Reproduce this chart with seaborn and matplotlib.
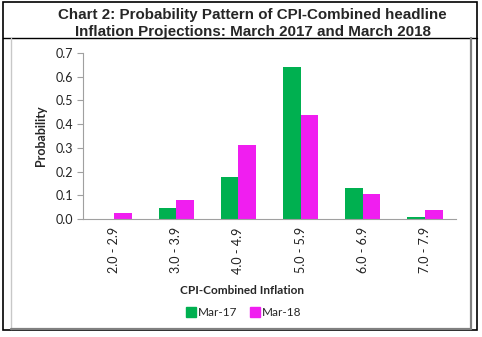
import matplotlib
matplotlib.use("Agg")
import matplotlib.pyplot as plt
import seaborn as sns
import pandas as pd
from matplotlib.lines import Line2D
from matplotlib.patches import Rectangle

categories = ["2.0 - 2.9", "3.0 - 3.9", "4.0 - 4.9", "5.0 - 5.9", "6.0 - 6.9", "7.0 - 7.9"]
mar17 = [0.0, 0.045, 0.176, 0.642, 0.130, 0.008]
mar18 = [0.025, 0.080, 0.312, 0.439, 0.105, 0.038]
series_names = ["Mar-17", "Mar-18"]
yticks = [0.0, 0.1, 0.2, 0.3, 0.4, 0.5, 0.6, 0.7]
colors = ["#00B050", "#F01EF0"]

df = pd.DataFrame({
    "range": categories * 2,
    "value": mar17 + mar18,
    "series": [series_names[0]] * len(categories) + [series_names[1]] * len(categories),
})

sns.set_style("white")
plt.rcParams["font.family"] = ["Lato", "DejaVu Sans"]

W, H = 482, 337
fig = plt.figure(figsize=(W / 100, H / 100), dpi=100)
ax = fig.add_axes([83 / W, 1 - 219 / H, (456 - 83) / W, (219 - 53) / H])

sns.barplot(data=df, x="range", y="value", hue="series", palette=colors,
            width=0.57, gap=0, saturation=1, ax=ax, legend=False,
            linewidth=0, edgecolor="none")

ax.set_xlim(-0.5, len(categories) - 0.5)
ax.set_ylim(0, 0.7)
ax.set_yticks(yticks)
ax.set_yticklabels([f"{v:.1f}" for v in yticks], fontsize=9, color="#222222")
ax.set_xticks(range(len(categories)))
ax.set_xticklabels(categories, rotation=90, fontsize=9, color="#222222")
ax.set_xticks([i - 0.5 for i in range(len(categories) + 1)], minor=True)
ax.tick_params(axis="x", which="major", length=0, pad=6)
ax.tick_params(axis="x", which="minor", length=4, direction="out", color="#A0A0A0", width=0.8)
ax.tick_params(axis="y", which="major", length=4, direction="out", color="#A0A0A0", width=0.8, pad=3, left=True)

for s in ["top", "right"]:
    ax.spines[s].set_visible(False)
for s in ["left", "bottom"]:
    ax.spines[s].set_color("#A0A0A0")
    ax.spines[s].set_linewidth(0.8)

ax.set_ylabel("Probability", fontsize=9, fontweight="bold", labelpad=6)
ax.set_xlabel("")
fig.text(242 / W, 1 - 290 / H, "CPI-Combined Inflation", ha="center", va="center",
         fontsize=8.5, fontweight="bold")

handles = [Line2D([0], [0], marker="s", linestyle="none", markersize=7,
                  markerfacecolor=c, markeredgecolor=c) for c in colors]
fig.legend(handles, series_names, loc="center", bbox_to_anchor=(243 / W, 1 - 313 / H),
           ncol=2, frameon=False, fontsize=8.5, handletextpad=0.1, columnspacing=1.0,
           handlelength=1.0)

fig.text(252 / W, 1 - 15 / H, "Chart 2: Probability Pattern of CPI-Combined headline",
         ha="center", va="center", fontsize=10.9, fontweight="bold",
         family=["Liberation Sans", "DejaVu Sans"])
fig.text(253 / W, 1 - 32 / H, "Inflation Projections: March 2017 and March 2018",
         ha="center", va="center", fontsize=10.9, fontweight="bold",
         family=["Liberation Sans", "DejaVu Sans"])

def fx(x):
    return x / W

def fy(y):
    return 1 - y / H

# outer frame
fig.add_artist(Rectangle((fx(3), fy(330)), fx(477) - fx(3), fy(2) - fy(330),
                         transform=fig.transFigure, fill=False, edgecolor="black", linewidth=1.2))
fig.add_artist(Line2D([fx(3), fx(477)], [fy(38), fy(38)], transform=fig.transFigure,
                      color="black", linewidth=1.0))
# inner chart frame
fig.add_artist(Line2D([fx(11), fx(11)], [fy(38), fy(329)], transform=fig.transFigure,
                      color="#C8C8C8", linewidth=1.0))
fig.add_artist(Line2D([fx(11), fx(471)], [fy(329), fy(329)], transform=fig.transFigure,
                      color="#808080", linewidth=1.6))
fig.add_artist(Line2D([fx(471), fx(471)], [fy(38), fy(329)], transform=fig.transFigure,
                      color="#808080", linewidth=1.6))

fig.savefig("out.png", dpi=100)
